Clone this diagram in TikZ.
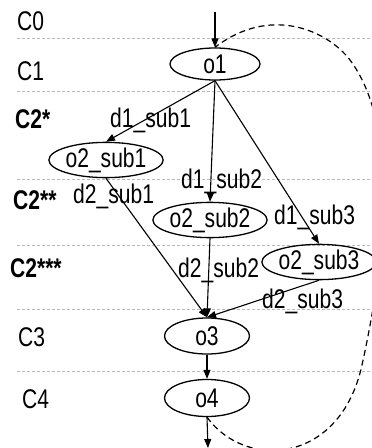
\documentclass[tikz,border=0pt]{standalone}
\usepackage{fontspec}
\setmainfont[FakeStretch=0.78]{Liberation Sans}
\usetikzlibrary{shapes.geometric,arrows.meta}
\begin{document}
\begin{tikzpicture}[x=1pt,y=-1pt,
  font=\fontsize{27}{31}\selectfont,
  state/.style={ellipse, draw, line width=1.3pt, inner sep=0pt,
                minimum width=#1, minimum height=32pt},
  state/.default=88pt,
  gridline/.style={gray!55, line width=0.7pt, dash pattern=on 3pt off 2pt},
  flow/.style={line width=1.1pt, -{Triangle[length=9pt,width=7pt]}},
  loopback/.style={line width=1.2pt, dash pattern=on 6pt off 4pt},
  lvl/.style={anchor=west, inner sep=0pt},
  lbl/.style={anchor=west, inner sep=0pt}]
\useasboundingbox (0,0) rectangle (372,448);
\clip (0,0) rectangle (372,448);

% layer separators
\foreach \yy in {38,91,179,245,309,371}
  \draw[gridline] (17,\yy) -- (372,\yy);

% layer names
\node[lvl] (c0) at (17,21) {C0};
\node[lvl] (c1) at (17,71) {C1};
\node[lvl] (c2a) at (15,119) {\textbf{C2*}};
\node[lvl] (c2b) at (13,200) {\textbf{C2**}};
\node[lvl] (c2c) at (10,268) {\textbf{C2***}};
\node[lvl] (c3) at (18,337) {C3};
\node[lvl] (c4) at (22,399) {C4};

% operations
\node[state=90pt] (o1) at (215,64) {o1};
\node[state=105pt, minimum height=30pt] (o21) at (106,160) {o2\_sub1};
\node[state=102pt] (o22) at (210,220) {o2\_sub2};
\node[state=102pt, minimum height=30pt] (o23) at (319,262) {o2\_sub3};
\node[state=85pt, minimum height=36pt] (o3) at (207,336) {o3};
\node[state=85pt, minimum height=37pt] (o4) at (207,398) {o4};

\coordinate (in) at (215,12);
\coordinate (out) at (208,448);

% connectors
\draw[flow] (in) -- (o1.north);
\draw[flow] (o1.south) -- (o21.north);
\draw[flow] (o1.south) -- (o22.north);
\draw[flow] (o1.south) -- (o23.north);
\draw[flow] (o21.south) -- (o3.north);
\draw[flow] (o22.south) -- (o3.north);
\draw[flow] (o23.south) -- (o3.north);
\draw[flow] (o3.south) -- (o4.north);
\draw[flow] (o4.south) -- (out);

% loop back from o4 to o1, running past the right edge
\draw[loopback] (o4.south) .. controls (245,470) and (340,465) .. (362,365)
  .. controls (390,238) and (395,120) .. (350,60)
  .. controls (327,30) and (270,5) .. (o1.north);

% edge labels
\node[lbl] (l11) at (110,120) {d1\_sub1};
\node[lbl] (l21) at (73,196) {d2\_sub1};
\node[lbl] (l12) at (181,181) {d1\_sub2};
\node[lbl] (l13) at (274,217) {d1\_sub3};
\node[lbl] (l22) at (178,270) {d2\_sub2};
\node[lbl] (l23) at (262,301) {d2\_sub3};
\end{tikzpicture}
\end{document}
